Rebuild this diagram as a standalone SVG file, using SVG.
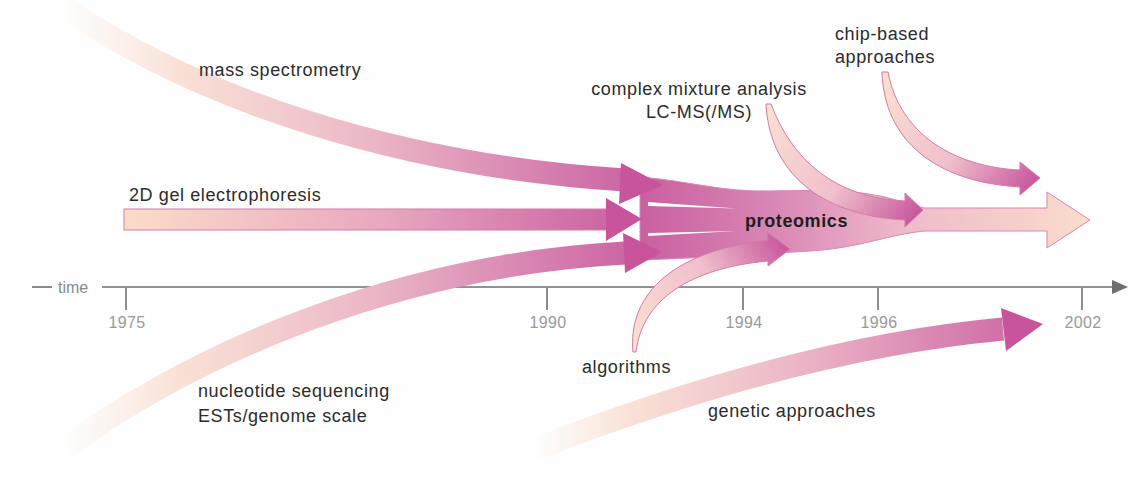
<svg xmlns="http://www.w3.org/2000/svg" width="1136" height="499" viewBox="0 0 1136 499">
<style>
.lbl{font-family:"Liberation Sans",Arial,sans-serif;font-size:18px;letter-spacing:0.6px;fill:#2c2c2c}
.bold{font-weight:bold;fill:#1e1e1e}
.yr{font-family:"Liberation Sans",Arial,sans-serif;font-size:16px;letter-spacing:0.4px;fill:#9a9a9a}
.tm{font-family:"Liberation Sans",Arial,sans-serif;font-size:16px;fill:#8a8a8a}
.axis{stroke:#6e6e6e;stroke-width:1.6;fill:none}
.tick{stroke:#8c8c8c;stroke-width:2}
.band{fill:none;stroke-width:23}
.head{fill:#c8559c}
.rib{stroke:#d47aa9;stroke-width:1}
</style>
<defs>
<linearGradient id="gMass" gradientUnits="userSpaceOnUse" x1="65" y1="0" x2="625" y2="0">
<stop offset="0" stop-color="#fbe2d6" stop-opacity="0"/>
<stop offset="0.2" stop-color="#f9dcd0" stop-opacity="0.85"/>
<stop offset="0.55" stop-color="#ebb6c6"/>
<stop offset="1" stop-color="#cc66a4"/>
</linearGradient>
<linearGradient id="gNuc" gradientUnits="userSpaceOnUse" x1="65" y1="0" x2="625" y2="0">
<stop offset="0" stop-color="#fbe2d6" stop-opacity="0"/>
<stop offset="0.2" stop-color="#f9dcd0" stop-opacity="0.85"/>
<stop offset="0.55" stop-color="#ebb6c6"/>
<stop offset="1" stop-color="#cc66a4"/>
</linearGradient>
<linearGradient id="gGen" gradientUnits="userSpaceOnUse" x1="535" y1="0" x2="1003" y2="0">
<stop offset="0" stop-color="#fbe2d6" stop-opacity="0"/>
<stop offset="0.2" stop-color="#f9dcd0" stop-opacity="0.85"/>
<stop offset="0.6" stop-color="#eab0c4"/>
<stop offset="1" stop-color="#d070a8"/>
</linearGradient>
<linearGradient id="gGel" gradientUnits="userSpaceOnUse" x1="124" y1="0" x2="640" y2="0">
<stop offset="0" stop-color="#fcdcc8"/>
<stop offset="0.5" stop-color="#e8a8c0"/>
<stop offset="1" stop-color="#c95c9e"/>
</linearGradient>
<linearGradient id="gBlob" gradientUnits="userSpaceOnUse" x1="640" y1="0" x2="1090" y2="0">
<stop offset="0" stop-color="#c95fa0"/>
<stop offset="0.3" stop-color="#d987b5"/>
<stop offset="0.6" stop-color="#efbccb"/>
<stop offset="1" stop-color="#fadccc"/>
</linearGradient>
<linearGradient id="gAlg" gradientUnits="userSpaceOnUse" x1="635" y1="350" x2="790" y2="250">
<stop offset="0" stop-color="#fbe0d2"/>
<stop offset="0.55" stop-color="#f0c0cc"/>
<stop offset="1" stop-color="#c8559c"/>
</linearGradient>
<linearGradient id="gCmx" gradientUnits="userSpaceOnUse" x1="768" y1="105" x2="923" y2="210">
<stop offset="0" stop-color="#fbe0d2"/>
<stop offset="0.55" stop-color="#f0c0cc"/>
<stop offset="1" stop-color="#c8559c"/>
</linearGradient>
<linearGradient id="gChip" gradientUnits="userSpaceOnUse" x1="884" y1="72" x2="1040" y2="178">
<stop offset="0" stop-color="#fbe0d2"/>
<stop offset="0.55" stop-color="#f0c0cc"/>
<stop offset="1" stop-color="#c8559c"/>
</linearGradient>
</defs>
<rect width="1136" height="499" fill="#fdfefd"/>

<g id="axis">
<line class="axis" x1="32" y1="287" x2="52" y2="287"/>
<text class="tm" x="58" y="293">time</text>
<line class="axis" x1="102" y1="287" x2="1116" y2="287"/>
<polygon points="1112,280 1128,287 1112,294" fill="#6e6e6e"/>
<line class="tick" x1="126" y1="287" x2="126" y2="310"/>
<line class="tick" x1="547" y1="287" x2="547" y2="310"/>
<line class="tick" x1="743" y1="287" x2="743" y2="310"/>
<line class="tick" x1="878" y1="287" x2="878" y2="310"/>
<line class="tick" x1="1082" y1="287" x2="1082" y2="310"/>
<text class="yr" x="127" y="328" text-anchor="middle">1975</text>
<text class="yr" x="548" y="328" text-anchor="middle">1990</text>
<text class="yr" x="744" y="328" text-anchor="middle">1994</text>
<text class="yr" x="879" y="328" text-anchor="middle">1996</text>
<text class="yr" x="1083" y="328" text-anchor="middle">2002</text>
</g>

<g id="connectors">
<path id="proteomics-arrow" d="M 640,177 C 690,181 720,192 770,191 C 820,190 850,190 880,196 C 900,200 910,206 925,208 L 1047,208 L 1047,192 L 1090,220 L 1047,248 L 1047,231 L 925,231 C 890,234 860,248 810,251 C 760,254 720,257 640,260 Z" fill="url(#gBlob)" stroke="#d68ab4" stroke-width="1"/>
<polygon points="648,202 737,208.5 648,206" fill="#fdfefd"/>
<polygon points="648,233 737,231 648,236" fill="#fdfefd"/>
<path class="band" d="M 65,8 C 200,100 400,166 625,180" stroke="url(#gMass)"/>
<polygon class="head" points="621,163 663,185 619,204"/>
<rect x="124" y="209" width="484" height="21" fill="url(#gGel)" stroke="#d47aa9" stroke-width="1"/>
<polygon class="head" points="606,198 642,219 606,241"/>
<path class="band" d="M 65,448 C 200,350 400,265 625,253" stroke="url(#gNuc)"/>
<polygon class="head" points="623,233 662,252 625,273"/>
<path class="band" d="M 535,449 C 690,389 853,343 1003,329" stroke="url(#gGen)"/>
<polygon class="head" points="1001,308 1043,324 1006,351"/>
<path class="rib" d="M 633,352 C 628,300 665,252 768,240 L 767,232 L 790,249 L 768,266 L 768,261 C 690,268 642,300 636,352 Z" fill="url(#gAlg)"/>
<path class="rib" d="M 766,104 C 770,180 830,216 905,220 L 905,227 L 923,210 L 905,193 L 905,201 C 835,198 792,160 771,104 Z" fill="url(#gCmx)"/>
<path class="rib" d="M 882,72 C 884,140 935,182 1020,187 L 1020,195 L 1040,178 L 1020,162 L 1020,170 C 955,167 900,135 888,72 Z" fill="url(#gChip)"/>
</g>

<g id="node-mass-spectrometry"><text class="lbl" x="199" y="76">mass spectrometry</text></g>
<g id="node-2d-gel"><text class="lbl" x="129" y="201">2D gel electrophoresis</text></g>
<g id="node-complex-mixture"><text class="lbl" x="699" y="95" text-anchor="middle">complex mixture analysis</text><text class="lbl" x="699" y="118" text-anchor="middle">LC-MS(/MS)</text></g>
<g id="node-chip-based"><text class="lbl" x="835" y="40">chip-based</text><text class="lbl" x="835" y="63">approaches</text></g>
<g id="node-proteomics"><text class="lbl bold" x="745" y="227">proteomics</text></g>
<g id="node-nucleotide"><text class="lbl" x="198" y="397">nucleotide sequencing</text><text class="lbl" x="198" y="422">ESTs/genome scale</text></g>
<g id="node-algorithms"><text class="lbl" x="582" y="373">algorithms</text></g>
<g id="node-genetic"><text class="lbl" x="708" y="417">genetic approaches</text></g>
</svg>
